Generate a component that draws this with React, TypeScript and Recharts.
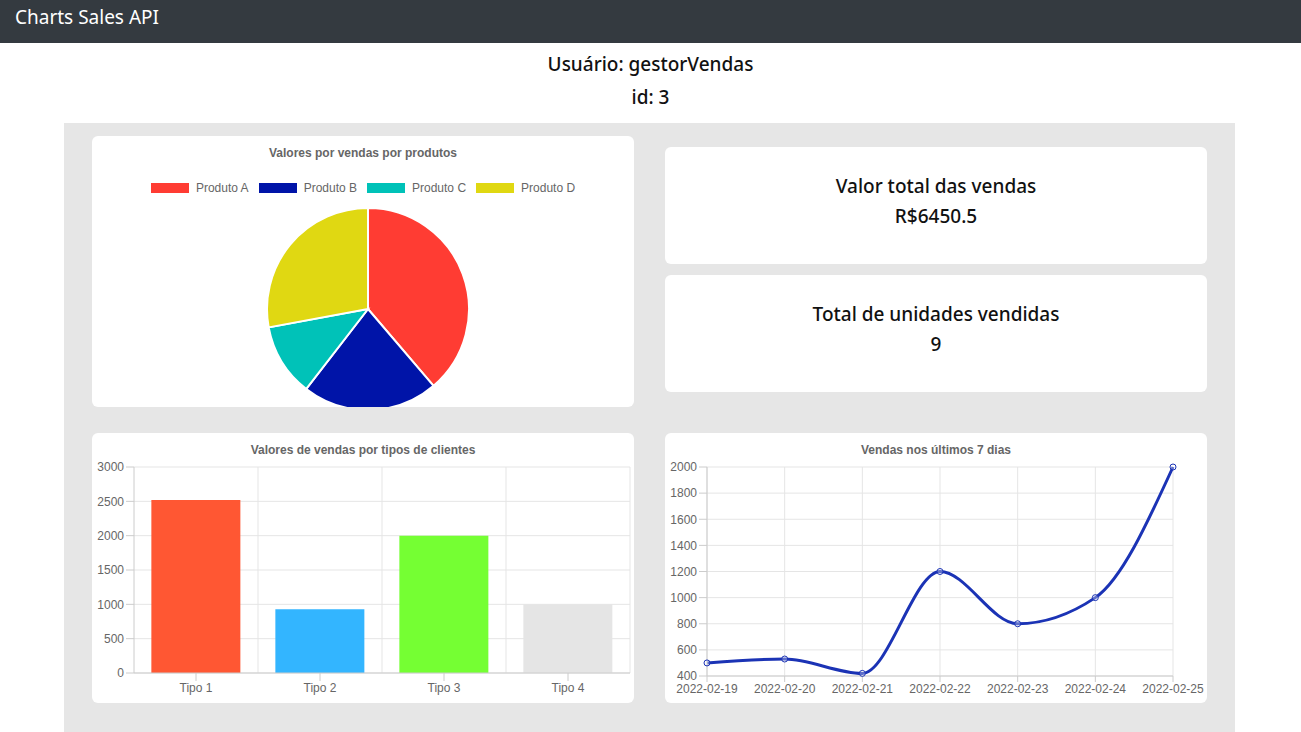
import React from "react";
import {
  PieChart, Pie, Cell, BarChart, Bar, LineChart, Line, XAxis, YAxis, CartesianGrid,
} from "recharts";

const produtos = ["Produto A", "Produto B", "Produto C", "Produto D"];
const produtoValores = [2500, 1400, 750, 1800.5];
const produtoCores = ["#ff3c33", "#0014a8", "#00c2b8", "#e0d812"];

const tipos = ["Tipo 1", "Tipo 2", "Tipo 3", "Tipo 4"];
const tipoValores = [2520, 930, 2000, 1000];
const tipoCores = ["#ff5733", "#33b5ff", "#75ff33", "#e5e5e5"];

const dias = ["2022-02-19", "2022-02-20", "2022-02-21", "2022-02-22", "2022-02-23", "2022-02-24", "2022-02-25"];
const vendasDias = [500, 530, 420, 1200, 800, 1000, 2000];

const pieData = produtos.map((name, i) => ({ name, value: produtoValores[i] }));
const barData = tipos.map((name, i) => ({ name, value: tipoValores[i] }));
const lineData = dias.map((dia, i) => ({ dia, value: vendasDias[i] }));

const chartFont = "'Liberation Sans', Arial, sans-serif";
const tick = { fill: "#666", fontSize: 12, fontFamily: chartFont };

const card: React.CSSProperties = {
  position: "absolute", background: "#fff", borderRadius: 6,
};
const chartTitle: React.CSSProperties = {
  position: "absolute", top: 10, left: 0, right: 0, textAlign: "center",
  fontFamily: chartFont, fontSize: 12, fontWeight: "bold", color: "#666",
};
const bigText: React.CSSProperties = {
  fontFamily: "'Noto Sans', sans-serif", fontSize: 19, fontWeight: 500, color: "#111", lineHeight: "30px",
};

export default function App() {
  return (
    <div style={{ position: "fixed", left: 0, top: 0, width: 1301, height: 732, background: "#fff", overflow: "hidden" }}>
      <div style={{ height: 43, background: "#343a40", color: "#fff", fontFamily: "'Noto Sans', sans-serif", fontSize: 19, lineHeight: "34px", paddingLeft: 15 }}>
        Charts Sales API
      </div>
      <div style={{ position: "absolute", top: 48, width: "100%", textAlign: "center", ...bigText, lineHeight: "33px" }}>
        <div>Usuário: gestorVendas</div>
        <div>id: 3</div>
      </div>
      <div style={{ position: "absolute", left: 64, top: 123, width: 1171, height: 609, background: "#e6e6e6" }} />

      <div style={{ ...card, left: 92, top: 136, width: 542, height: 271 }}>
        <div style={chartTitle}>Valores por vendas por produtos</div>
        <div style={{ position: "absolute", top: 45, left: 0, right: 0, display: "flex", justifyContent: "center", gap: 10, fontFamily: chartFont, fontSize: 12, color: "#666" }}>
          {produtos.map((p, i) => (
            <span key={p} style={{ display: "flex", alignItems: "center", gap: 7 }}>
              <span style={{ width: 38, height: 10, background: produtoCores[i], display: "inline-block" }} />
              {p}
            </span>
          ))}
        </div>
        <PieChart width={542} height={271} style={{ position: "absolute", left: 0, top: 0 }}>
          <Pie data={pieData} dataKey="value" cx={271} cy={168} outerRadius={101} startAngle={90} endAngle={-270}
            stroke="#fff" strokeWidth={2} isAnimationActive={false}>
            {pieData.map((d, i) => <Cell key={d.name} fill={produtoCores[i]} />)}
          </Pie>
        </PieChart>
      </div>

      <div style={{ ...card, left: 665, top: 147, width: 542, height: 117, textAlign: "center", ...bigText, paddingTop: 24, boxSizing: "border-box" }}>
        <div>Valor total das vendas</div>
        <div>R$6450.5</div>
      </div>
      <div style={{ ...card, left: 665, top: 275, width: 542, height: 117, textAlign: "center", ...bigText, paddingTop: 24, boxSizing: "border-box" }}>
        <div>Total de unidades vendidas</div>
        <div>9</div>
      </div>

      <div style={{ ...card, left: 92, top: 433, width: 542, height: 270 }}>
        <div style={chartTitle}>Valores de vendas por tipos de clientes</div>
        <BarChart width={542} height={270} data={barData} margin={{ top: 34, right: 4, left: 0, bottom: 0 }} barCategoryGap="14%">
          <CartesianGrid stroke="#e5e5e5"
            verticalCoordinatesGenerator={({ offset }: any) =>
              tipos.map((_, i) => offset.left + (offset.width * (i + 1)) / tipos.length)} />
          <XAxis dataKey="name" tick={tick} stroke="#ccc" tickSize={8} height={30} />
          <YAxis domain={[0, 3000]} ticks={[0, 500, 1000, 1500, 2000, 2500, 3000]} tick={tick} stroke="#ccc" width={42} tickSize={8} />
          <Bar dataKey="value" isAnimationActive={false}>
            {barData.map((d, i) => <Cell key={d.name} fill={tipoCores[i]} />)}
          </Bar>
        </BarChart>
      </div>

      <div style={{ ...card, left: 665, top: 433, width: 542, height: 270 }}>
        <div style={chartTitle}>Vendas nos últimos 7 dias</div>
        <LineChart width={542} height={270} data={lineData} margin={{ top: 34, right: 34, left: 0, bottom: 0 }}>
          <CartesianGrid stroke="#e5e5e5" />
          <XAxis dataKey="dia" tick={tick} stroke="#ccc" tickSize={6} height={27} interval={0} />
          <YAxis domain={[400, 2000]} ticks={[400, 600, 800, 1000, 1200, 1400, 1600, 1800, 2000]} tick={tick} stroke="#ccc" width={42} tickSize={8} />
          <Line type="monotone" dataKey="value" stroke="#1b33b5" strokeWidth={3}
            dot={{ r: 3, stroke: "#1b33b5", strokeWidth: 1, fill: "#fff", fillOpacity: 0.3 }} isAnimationActive={false} />
        </LineChart>
      </div>
    </div>
  );
}
